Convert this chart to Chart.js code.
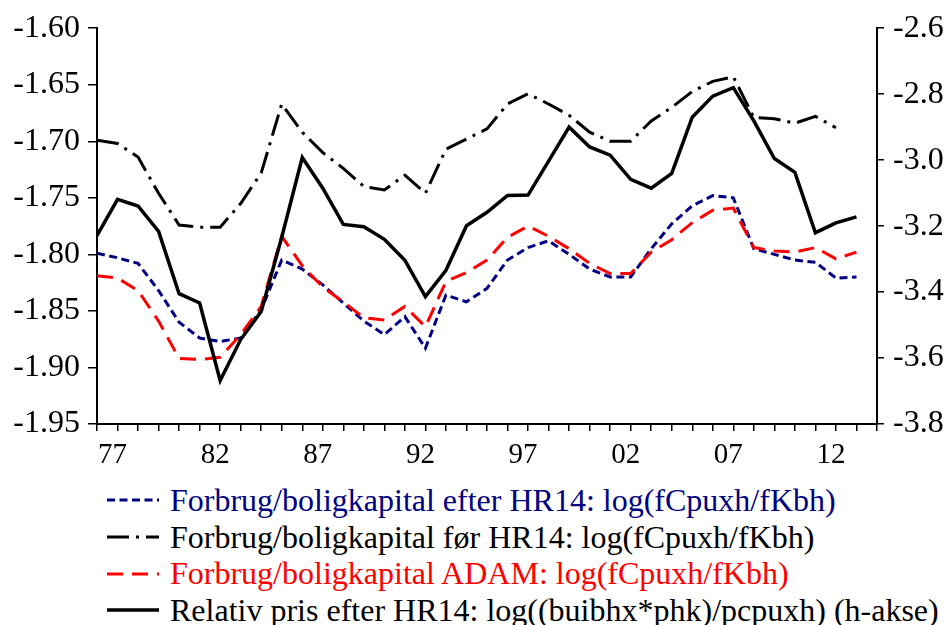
<!DOCTYPE html>
<html>
<head>
<meta charset="utf-8">
<script src="https://cdn.jsdelivr.net/npm/chart.js@4.4.1/dist/chart.umd.min.js"></script>
<style>
  body { margin: 0; background: #fff; width: 948px; height: 625px; overflow: hidden; position: relative; }
  #wrap { position: absolute; left: 0; top: 0; width: 948px; height: 470px; }
  #legend { position: absolute; left: 107px; top: 482px; font-family: "Liberation Serif", "Times New Roman", serif; font-size: 32px; white-space: nowrap; }
  #legend div { height: 36.7px; line-height: 36.7px; display: flex; align-items: center; }
  #legend svg { width: 52px; height: 10px; margin-right: 11px; flex: none; }
</style>
</head>
<body>
<div id="wrap"><canvas id="chart"></canvas></div>
<div id="legend"></div>
<script>
// years 1976-2013
const years = [1976, 1977, 1978, 1979, 1980, 1981, 1982, 1983, 1984, 1985,
    1986, 1987, 1988, 1989, 1990, 1991, 1992, 1993, 1994, 1995,
    1996, 1997, 1998, 1999, 2000, 2001, 2002, 2003, 2004, 2005,
    2006, 2007, 2008, 2009, 2010, 2011, 2012, 2013];

// Forbrug/boligkapital efter HR14 (venstre akse)
const efterHR14 = [-1.799, -1.803, -1.808, -1.832, -1.860, -1.874, -1.877, -1.874, -1.849, -1.805,
    -1.813, -1.827, -1.843, -1.859, -1.871, -1.855, -1.883, -1.836, -1.842, -1.830,
    -1.805, -1.794, -1.788, -1.800, -1.813, -1.820, -1.820, -1.795, -1.773, -1.757,
    -1.748, -1.750, -1.795, -1.800, -1.805, -1.807, -1.821, -1.820];

// Forbrug/boligkapital før HR14 (slutter 2012)
const foerHR14 = [-1.699, -1.702, -1.714, -1.746, -1.774, -1.776, -1.776, -1.755, -1.728, -1.667,
    -1.692, -1.710, -1.724, -1.740, -1.743, -1.730, -1.746, -1.707, -1.698, -1.689,
    -1.667, -1.658, -1.667, -1.677, -1.692, -1.700, -1.700, -1.682, -1.670, -1.656,
    -1.647, -1.643, -1.679, -1.680, -1.684, -1.678, -1.688, null];

// Forbrug/boligkapital ADAM
const adam = [-1.819, -1.821, -1.832, -1.859, -1.892, -1.893, -1.891, -1.871, -1.846, -1.784,
    -1.810, -1.829, -1.842, -1.856, -1.858, -1.846, -1.864, -1.824, -1.816, -1.805,
    -1.785, -1.775, -1.784, -1.795, -1.808, -1.817, -1.817, -1.798, -1.787, -1.772,
    -1.761, -1.759, -1.794, -1.797, -1.798, -1.794, -1.804, -1.798];

// Relativ pris efter HR14 (højre akse)
const relPris = [-3.229, -3.119, -3.139, -3.216, -3.405, -3.433, -3.668, -3.544, -3.459, -3.234,
    -2.992, -3.085, -3.195, -3.202, -3.240, -3.304, -3.414, -3.334, -3.199, -3.158,
    -3.107, -3.106, -3.003, -2.900, -2.960, -2.985, -3.058, -3.085, -3.040, -2.870,
    -2.806, -2.780, -2.881, -2.995, -3.037, -3.220, -3.190, -3.172];

const labels = [
    "Forbrug/boligkapital efter HR14: log(fCpuxh/fKbh)",
    "Forbrug/boligkapital før HR14: log(fCpuxh/fKbh)",
    "Forbrug/boligkapital ADAM: log(fCpuxh/fKbh)",
    "Relativ pris efter HR14: log((buibhx*phk)/pcpuxh) (h-akse)"
];

const NAVY = "#000080";
const RED = "#ff0000";
const BLACK = "#000000";

function toPoints(vals) {
    return years.map((y, i) => ({ x: y, y: vals[i] }));
}

const series = [
    { label: labels[0], data: efterHR14, color: NAVY, dash: [8, 4.5], width: 3, axis: "yL", order: 3 },
    { label: labels[1], data: foerHR14, color: BLACK, dash: [22, 7, 3, 7], width: 3, axis: "yL", order: 2 },
    { label: labels[2], data: adam, color: RED, dash: [16, 9], width: 3, axis: "yL", order: 1 },
    { label: labels[3], data: relPris, color: BLACK, dash: [], width: 3.5, axis: "yR", order: 0 }
];

const serif = "'Liberation Serif', 'Times New Roman', serif";

const ctx = document.getElementById("chart").getContext("2d");
const chart = new Chart(ctx, {
    type: "line",
    data: {
        datasets: series.map(s => ({
            label: s.label,
            data: toPoints(s.data),
            borderColor: s.color,
            borderDash: s.dash,
            borderWidth: s.width,
            yAxisID: s.axis,
            order: s.order,
            pointRadius: 0,
            tension: 0,
            fill: false,
            spanGaps: false
        }))
    },
    options: {
        responsive: true,
        maintainAspectRatio: false,
        animation: false,
        layout: { padding: { top: 23, left: 0, right: 0, bottom: 0 } },
        plugins: { legend: { display: false }, tooltip: { enabled: false } },
        scales: {
            x: {
                type: "linear",
                min: 1976,
                max: 2014,
                afterFit: (scale) => { scale.height = 46; },
                border: { display: true, color: BLACK, width: 2 },
                grid: { drawOnChartArea: false, drawTicks: true, tickLength: 7, color: BLACK, lineWidth: 1.5 },
                ticks: {
                    stepSize: 1,
                    autoSkip: false,
                    maxRotation: 0,
                    padding: 7,
                    labelOffset: -5,
                    color: BLACK,
                    font: { family: serif, size: 29 },
                    callback: (v) => ((v - 1977) % 5 === 0 ? String(v % 100).padStart(2, "0") : "")
                }
            },
            yL: {
                position: "left",
                min: -1.95,
                max: -1.60,
                afterFit: (scale) => { scale.width = 97; },
                border: { display: true, color: BLACK, width: 2 },
                grid: { drawOnChartArea: false, drawTicks: true, tickLength: 9, color: BLACK, lineWidth: 1.5 },
                ticks: {
                    stepSize: 0.05,
                    padding: 8,
                    color: BLACK,
                    font: { family: serif, size: 32 },
                    callback: (v) => v.toFixed(2)
                }
            },
            yR: {
                position: "right",
                min: -3.8,
                max: -2.6,
                afterFit: (scale) => { scale.width = 71; },
                border: { display: true, color: BLACK, width: 2 },
                grid: { drawOnChartArea: false, drawTicks: true, tickLength: 7, color: BLACK, lineWidth: 1.5 },
                ticks: {
                    stepSize: 0.2,
                    padding: 9,
                    color: BLACK,
                    font: { family: serif, size: 32 },
                    callback: (v) => v.toFixed(1)
                }
            }
        }
    }
});

// legend below the chart
const legend = document.getElementById("legend");
series.forEach(s => {
    const row = document.createElement("div");
    const dash = s.dash.length ? s.dash.join(" ") : "none";
    row.innerHTML = '<svg viewBox="0 0 52 10"><line x1="0" y1="5" x2="52" y2="5" stroke="' + s.color +
        '" stroke-width="' + s.width + '" stroke-dasharray="' + dash + '"/></svg>';
    const span = document.createElement("span");
    span.textContent = s.label;
    span.style.color = s.color;
    row.appendChild(span);
    legend.appendChild(row);
});
</script>
</body>
</html>
